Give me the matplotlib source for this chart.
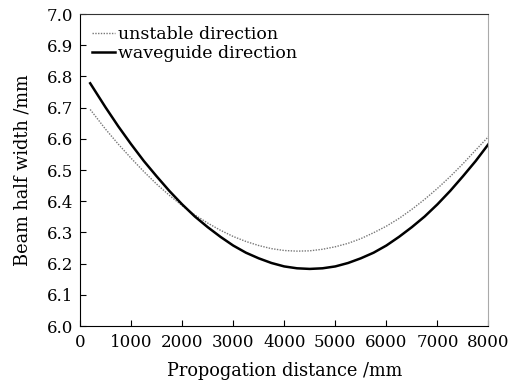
import numpy as np
import matplotlib
matplotlib.use("Agg")
import matplotlib.pyplot as plt

# beam half width along the propagation distance
distance = [200, 500, 750, 1000, 1250, 1500, 1750, 2000, 2250, 2500, 2750,
            3000, 3250, 3500, 3750, 4000, 4250, 4500, 4750, 5000, 5250,
            5500, 5750, 6000, 6250, 6500, 6750, 7000, 7250, 7500, 7750, 8000]
unstable = [6.694, 6.631, 6.583, 6.538, 6.495, 6.455, 6.419, 6.386, 6.356,
            6.330, 6.307, 6.287, 6.271, 6.258, 6.248, 6.242, 6.240, 6.241,
            6.246, 6.254, 6.265, 6.280, 6.299, 6.320, 6.345, 6.374, 6.406,
            6.441, 6.479, 6.520, 6.564, 6.607]
waveguide = [6.778, 6.701, 6.640, 6.583, 6.529, 6.480, 6.433, 6.390, 6.351,
             6.317, 6.286, 6.258, 6.235, 6.217, 6.202, 6.191, 6.185, 6.183,
             6.185, 6.191, 6.202, 6.217, 6.235, 6.258, 6.286, 6.317, 6.351,
             6.390, 6.433, 6.480, 6.529, 6.583]

plt.rcParams['font.family'] = ['DejaVu Serif']

fig = plt.figure(figsize=(5.15, 3.85), dpi=100)
ax = fig.add_axes([0.1553, 0.1532, 0.7932, 0.8104])

ax.plot(distance, unstable, color='#777777', linestyle=(0, (1, 1)), linewidth=1.0,
        label='unstable direction')
ax.plot(distance, waveguide, color='black', linewidth=1.8, label='waveguide direction')

ax.set_xlim(0, 8000)
ax.set_ylim(6.0, 7.0)
ax.set_xticks(np.arange(0, 8001, 1000))
ax.set_yticks(np.arange(6.0, 7.01, 0.1))
ax.set_yticklabels([f"{v:.1f}" for v in np.arange(6.0, 7.01, 0.1)])
ax.tick_params(direction='in', labelsize=12, length=4, width=0.8, top=False, right=False)
ax.tick_params(axis='y', pad=5)
ax.tick_params(axis='x', pad=6)

ax.spines['right'].set_color('#aaaaaa')
ax.spines['top'].set_color('#333333')

ax.set_xlabel('Propogation distance /mm', fontsize=12.8, labelpad=8)
ax.set_ylabel('Beam half width /mm', fontsize=12.8, labelpad=11)

ax.legend(loc='upper left', frameon=False, fontsize=12.5, handlelength=1.3,
          handletextpad=0.2, borderaxespad=0.3, labelspacing=0.1)

fig.savefig('out.png', dpi=100)
